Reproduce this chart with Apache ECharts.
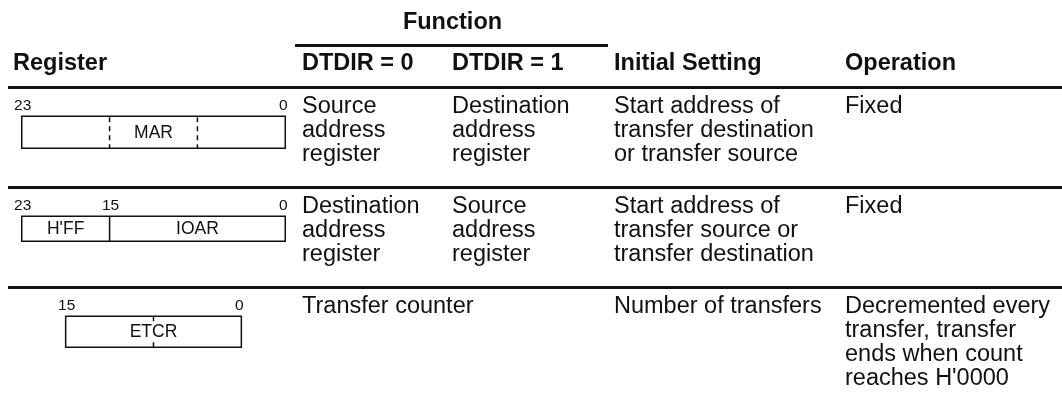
<!DOCTYPE html>
<html><head><meta charset="utf-8">
<script src="https://cdn.jsdelivr.net/npm/echarts@6/dist/echarts.min.js"></script>
<style>html,body{margin:0;padding:0;background:#fff}#c{width:1062px;height:415px}</style>
</head><body><div id="c"></div>
<script>
// ---------- data ----------
const groupHeader = 'Function';
const headers = ['Register', 'DTDIR = 0', 'DTDIR = 1', 'Initial Setting', 'Operation'];
const colDtdir0 = [['Source', 'address', 'register'], ['Destination', 'address', 'register'], ['Transfer counter']];
const colDtdir1 = [['Destination', 'address', 'register'], ['Source', 'address', 'register'], []];
const colInitial = [['Start address of', 'transfer destination', 'or transfer source'], ['Start address of', 'transfer source or', 'transfer destination'], ['Number of transfers']];
const colOperation = [['Fixed'], ['Fixed'], ['Decremented every', 'transfer, transfer', 'ends when count', "reaches H'0000"]];
const regBitCount = [24, 24, 16];
const regBitLabels = [[23, 0], [23, 15, 0], [15, 0]];
const regFieldNames = [['MAR'], ["H'FF", 'IOAR'], ['ETCR']];
const regFieldBits = [[24], [8, 16], [16]];
const regDashedAt = [[16, 8], [], []];
const regTickAt = [[], [], [8]];

// ---------- layout ----------
const FONT = '"Liberation Sans", Arial, Helvetica, sans-serif';
const INK = '#111';
const colX = [13, 302, 452, 614, 845];
const groupSpan = [295, 608];
const rowLineY = [87.5, 187.5, 287.5];
const boxHeights = [32, 25, 31];
const lineLeft = 8, lineRight = 1062;
const bodySize = 23.5, headSize = 23.5, bitSize = 15.5, fieldSize = 17.5;
const lineH = 24;
const bitW = 10.98, boxCenter = 153.5, boxTopOff = 28.7;

const els = [];
function txt(x, y, s, size, weight, align) {
  els.push({type: 'text', x: x, y: y, silent: true,
    style: {text: s, fill: INK, fontSize: size, fontWeight: weight || 'normal', fontFamily: FONT,
      textAlign: align || 'left', textVerticalAlign: 'middle', align: align || 'left', verticalAlign: 'middle'}});
}
function ln(x1, y1, x2, y2, w, dash) {
  els.push({type: 'line', silent: true, shape: {x1: x1, y1: y1, x2: x2, y2: y2},
    style: {stroke: INK, lineWidth: w, lineDash: dash || null}});
}

// group header
txt(452.5, 23, groupHeader, headSize, 'bold', 'center');
ln(groupSpan[0], 45.5, groupSpan[1], 45.5, 3);
headers.forEach((h, i) => txt(colX[i], 64, h, headSize, 'bold', 'left'));
rowLineY.forEach(y => ln(lineLeft, y, lineRight, y, 3));

const cols = [colDtdir0, colDtdir1, colInitial, colOperation];
rowLineY.forEach((ly, r) => {
  cols.forEach((col, c) => {
    col[r].forEach((s, k) => txt(colX[c + 1], ly + 19.5 + k * lineH, s, bodySize, 'normal', 'left'));
  });
  // register diagram
  const n = regBitCount[r];
  const boxH = boxHeights[r];
  const left = boxCenter - n * bitW / 2, right = boxCenter + n * bitW / 2;
  const top = ly + boxTopOff;
  const bx = b => right - b * bitW; // x of the boundary b bits from the right
  els.push({type: 'rect', silent: true, shape: {x: left, y: top, width: right - left, height: boxH},
    style: {fill: null, stroke: INK, lineWidth: 1.5}});
  regBitLabels[r].forEach(b => {
    const x = b === 0 ? right : bx(b + 1);
    txt(x + (b === 0 ? -2 : 1), ly + 18, String(b), bitSize, 'normal', 'center');
  });
  let acc = n;
  regFieldBits[r].forEach((w, f) => {
    const xL = bx(acc), xR = bx(acc - w);
    if (f > 0) ln(xL, top, xL, top + boxH, 1.5);
    txt((xL + xR) / 2, top + boxH / 2 + 0.5, regFieldNames[r][f], fieldSize, 'normal', 'center');
    acc -= w;
  });
  regDashedAt[r].forEach(b => ln(bx(b), top + 1, bx(b), top + boxH, 1.5, [5, 4]));
  regTickAt[r].forEach(b => { ln(bx(b), top, bx(b), top + 5, 1.5); ln(bx(b), top + boxH - 5, bx(b), top + boxH, 1.5); });
});

const chart = echarts.init(document.getElementById('c'), null, {renderer: 'canvas'});
chart.setOption({backgroundColor: '#fff', animation: false, graphic: {elements: els}});
</script>
</body></html>
